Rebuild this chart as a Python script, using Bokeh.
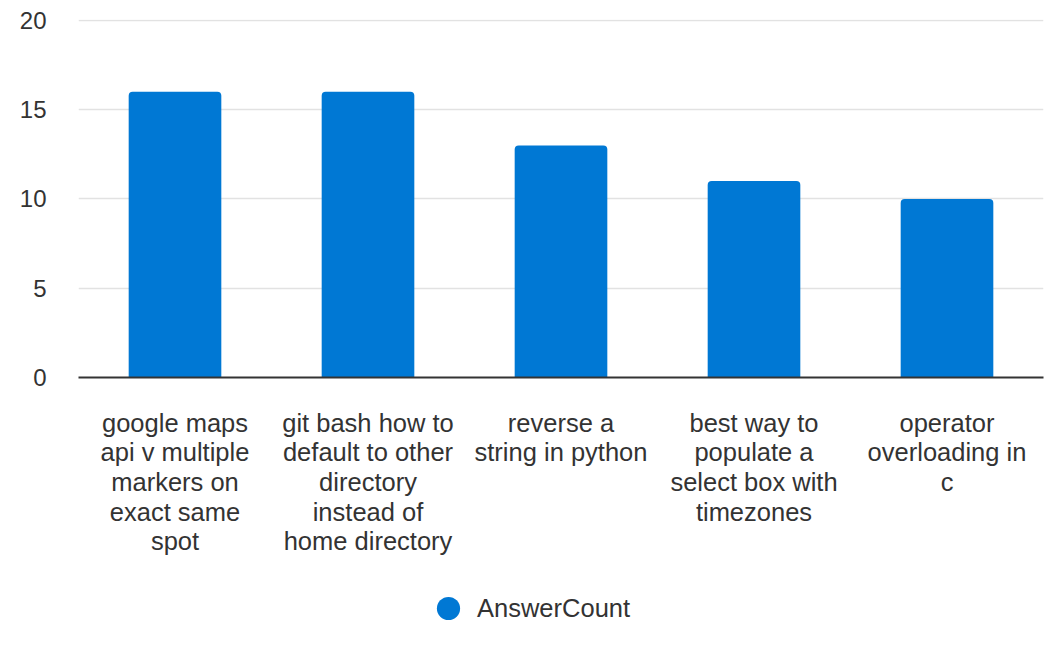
from bokeh.plotting import figure
from bokeh.models import ColumnDataSource, FactorRange, Range1d, Legend, LegendItem, FixedTicker
from bokeh.layouts import column
from bokeh.embed import file_html
from bokeh.resources import INLINE

# category labels, wrapped as in the reference
categories = [
    "google maps\napi v multiple\nmarkers on\nexact same\nspot",
    "git bash how to\ndefault to other\ndirectory\ninstead of\nhome directory",
    "reverse a\nstring in python",
    "best way to\npopulate a\nselect box with\ntimezones",
    "operator\noverloading in\nc",
]
answer_count = [16, 16, 13, 11, 10]
y_ticks = [0, 5, 10, 15, 20]
series_name = "AnswerCount"

FONT = "Liberation Sans"
BLUE = "#0078D4"
TXT = "#333333"

p = figure(width=1064, height=590, x_range=FactorRange(*categories), y_range=Range1d(0, 20.05),
           output_backend="svg", toolbar_location=None,
           min_border_left=78, min_border_right=21, min_border_top=19, min_border_bottom=213)
p.outline_line_color = None

src = ColumnDataSource(dict(cat=categories, val=answer_count))
p.vbar(x="cat", top="val", width=0.48, source=src, fill_color=BLUE, line_color=None,
       border_radius=(4, 4, 0, 0))

p.yaxis.ticker = FixedTicker(ticks=y_ticks)
p.yaxis.axis_line_color = None
p.yaxis.major_tick_line_color = None
p.yaxis.minor_tick_line_color = None
p.yaxis.major_label_standoff = 26
p.yaxis.major_label_text_font = FONT
p.yaxis.major_label_text_font_size = "24px"
p.yaxis.major_label_text_color = TXT

p.xaxis.axis_line_color = TXT
p.xaxis.axis_line_width = 2
p.xaxis.major_tick_line_color = None
p.xaxis.minor_tick_line_color = None
p.xaxis.major_label_standoff = 25
p.xaxis.major_label_text_font = FONT
p.xaxis.major_label_text_font_size = "25.5px"
p.xaxis.major_label_text_color = TXT
p.xaxis.major_label_text_line_height = 1.06

p.xgrid.grid_line_color = None
p.ygrid.grid_line_color = "#e2e2e2"
p.ygrid.grid_line_width = 1.5

# legend strip below the chart (its frame is aligned with the chart frame, x offset 78)
lg = figure(width=1064, height=78, x_range=Range1d(0, 1), y_range=Range1d(0, 1),
            output_backend="svg", toolbar_location=None, x_axis_type=None, y_axis_type=None,
            min_border=0)
lg.outline_line_color = None
lg.xgrid.grid_line_color = None
lg.ygrid.grid_line_color = None
dummy = lg.scatter(x=[-5], y=[-5], marker="circle", size=24, fill_color=BLUE, line_color=None)
legend = Legend(items=[LegendItem(label=series_name, renderers=[dummy])],
                location=(341, 31), orientation="horizontal",
                label_text_font=FONT, label_text_font_size="25.5px", label_text_color=TXT,
                glyph_width=58, glyph_height=58, label_height=30, padding=0, margin=0,
                label_standoff=0, border_line_color=None, background_fill_alpha=0)
lg.add_layout(legend, "center")

layout = column(p, lg, spacing=0)
open("out.html", "w").write(file_html(layout, INLINE))
